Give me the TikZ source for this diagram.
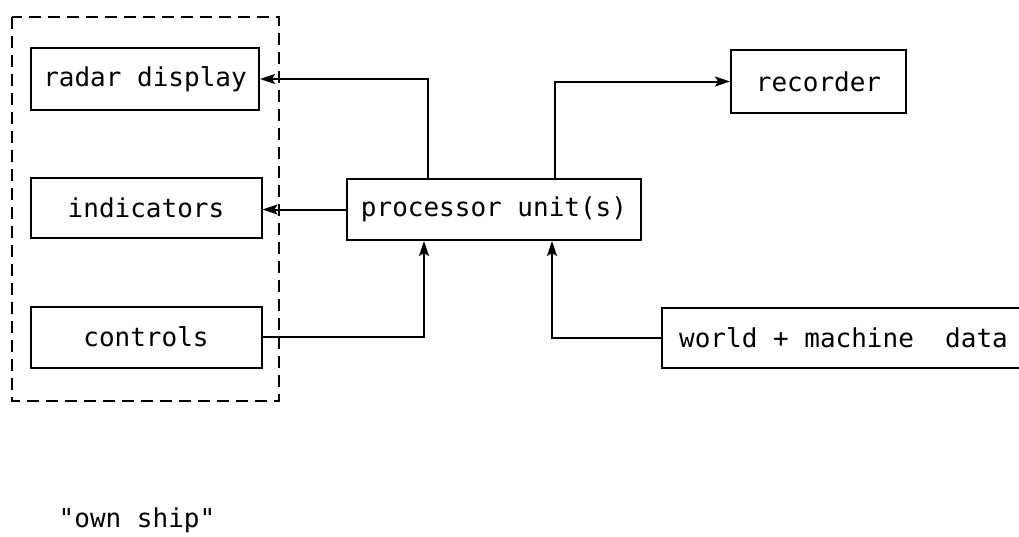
\documentclass[tikz,border=0pt]{standalone}
\usepackage{fontspec}
\setmonofont{DejaVu Sans Mono}
\usetikzlibrary{arrows.meta,calc}
\begin{document}
\begin{tikzpicture}[x=1pt,y=-1pt,
  box/.style={draw,line width=2pt,inner sep=0pt,font=\ttfamily\fontsize{26}{30}\selectfont},
  conn/.style={line width=2pt,-{Stealth[length=15pt,width=10pt,inset=3pt]}},
  lbl/.style={inner sep=0pt,font=\ttfamily\fontsize{26}{30}\selectfont}]
\useasboundingbox (0,0) rectangle (1019,536);
\draw[line width=2pt,dash pattern=on 12pt off 7pt] (12,17) rectangle (279,401);
\node[box,minimum width=228pt,minimum height=62pt] (radar) at (145,79) {radar display};
\node[box,minimum width=231pt,minimum height=60pt] (ind) at (146,208) {indicators};
\node[box,minimum width=231pt,minimum height=61pt] (ctrl) at (146,337) {controls};
\node[box,minimum width=294pt,minimum height=61pt] (proc) at (494,209.5) {processor unit(s)};
\node[box,minimum width=175pt,minimum height=63pt] (rec) at (818.5,81.5) {recorder};
\node[box,minimum width=363pt,minimum height=60pt] (world) at (843.5,338) {world + machine\ \ data};
\node[lbl] (own) at (137,520) {"own ship"};
\draw[conn] ($(proc.north west)+(82,0)$) |- (radar.east);
\draw[conn] (proc.west) -- (proc.west -| ind.east);
\draw[conn] (ctrl.east) -| ($(proc.south west)+(78,0)$);
\draw[conn] ($(proc.north west)+(209,0)$) |- (rec.west);
\draw[conn] (world.west) -| ($(proc.south west)+(206,0)$);
\end{tikzpicture}
\end{document}
